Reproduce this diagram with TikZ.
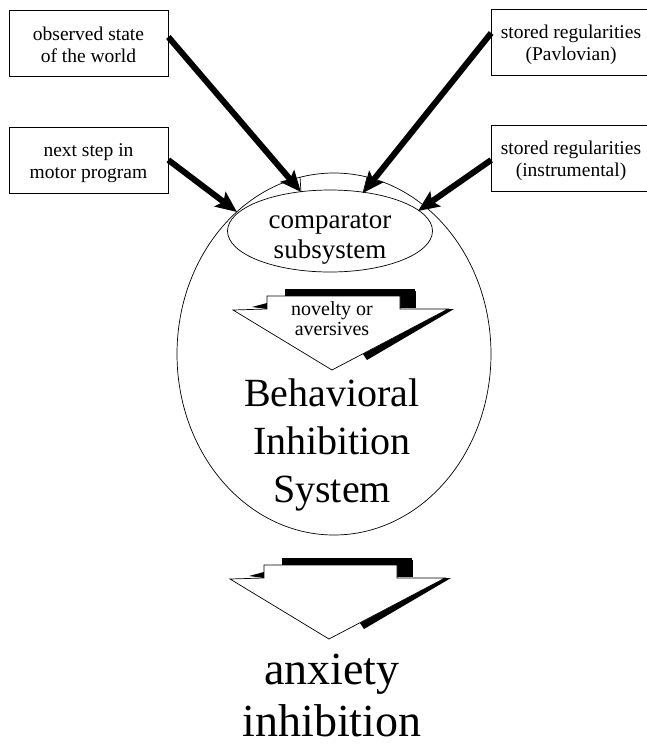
\documentclass[tikz,border=0pt]{standalone}
\usepackage{fontspec}
\setmainfont{Liberation Serif}
\usetikzlibrary{shapes.geometric,arrows.meta}
\tikzset{
  outline/.style={draw=black, line width=0.7pt},
  box/.style={outline, rectangle, minimum width=159pt, minimum height=66pt, inner sep=0pt,
    align=center, font=\fontsize{19.5}{22}\selectfont},
  feed/.style={line width=6pt, -{Stealth[length=21pt,width=18pt,inset=4pt]}},
  caption/.style={align=center, inner sep=0pt},
  blockarrow/.pic={
    \fill (-47,-81) rectangle (83,-74);
    \fill (68,-79) rectangle (84,-62);
    \fill (-80,-63) -- (-65,-67) -- (-65,-61) -- cycle;
    \fill (115,-61) -- (122,-61) -- (35,-10) -- (31,-16) -- cycle;
    \draw[outline, fill=white] (-99,-60) -- (-65,-61) -- (-65,-74) -- (68,-74) -- (68,-61)
      -- (116,-61) -- (0,0) -- cycle;
  }
}
\begin{document}
\begin{tikzpicture}[x=1pt,y=-1pt]
\useasboundingbox (0,0) rectangle (647,748);
\fill[white] (0,0) rectangle (647,748);

% input boxes
\node[box] (obs) at (88.5,43.5) {\rule{0pt}{21.5pt}observed state\\of the world\rule[-6pt]{0pt}{6pt}};
\node[box] (nxt) at (88.5,160) {\rule{0pt}{21.5pt}next step in\\motor program\rule[-6pt]{0pt}{6pt}};
\node[box] (pav) at (571,42) {\rule{0pt}{21.5pt}stored regularities\\(Pavlovian)\rule[-6pt]{0pt}{6pt}};
\node[box] (ins) at (571,158) {\rule{0pt}{21.5pt}stored regularities\\(instrumental)\rule[-6pt]{0pt}{6pt}};

% system ellipses
\node[outline, ellipse, minimum width=314pt, minimum height=362pt, inner sep=0pt] (bis) at (334,354) {};
\node[outline, ellipse, minimum width=205pt, minimum height=82pt, inner sep=0pt] (comp) at (330,231) {};
\node[caption, font=\fontsize{27}{30}\selectfont] (comptext) at (330,243)
  {\rule{0pt}{25pt}comparator\\subsystem\rule[-25pt]{0pt}{25pt}};

% arrow tips on the comparator
\coordinate (t1) at (301,192);
\coordinate (t2) at (237,212);
\coordinate (t3) at (363,193);
\coordinate (t4) at (418,211);
\coordinate (c1) at (300,177);
\coordinate (c3) at (367,177);
\draw[outline] (c1) -- (t1);
\draw[outline] (c3) -- (t3);

\draw[feed] ([yshift=6.5pt]obs.east) -- (t1);
\draw[feed] (nxt.east) -- (t2);
\draw[feed] ([yshift=9pt]pav.west) -- (t3);
\draw[feed] ([yshift=-2pt]ins.west) -- (t4);

% block arrows
\pic at (332,370) {blockarrow};
\node[caption, font=\fontsize{20}{20}\selectfont] (nov) at (332,325)
  {\rule{0pt}{17pt}novelty or\\aversives\rule[-17pt]{0pt}{17pt}};

\node[caption, font=\fontsize{40}{48}\selectfont] (bistext) at (332,454)
  {\rule{0pt}{33pt}Behavioral\\Inhibition\\System\rule[-33pt]{0pt}{33pt}};

\pic at (329,639) {blockarrow};

\node[caption, font=\fontsize{46}{52}\selectfont] (anx) at (332,694)
  {\rule{0pt}{34pt}anxiety\\inhibition\rule[-2pt]{0pt}{2pt}};
\end{tikzpicture}
\end{document}
